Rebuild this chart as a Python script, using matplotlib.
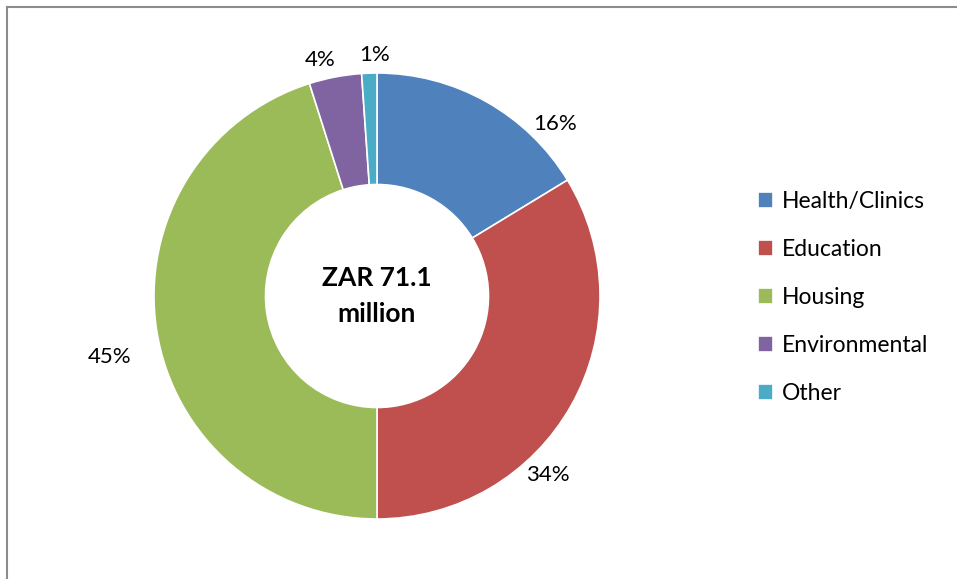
import matplotlib.pyplot as plt
import numpy as np

# Budget split (percent of ZAR 71.1 million)
categories = ["Health/Clinics", "Education", "Housing", "Environmental", "Other"]
shares = [16.3, 33.7, 45.1, 3.8, 1.1]
pct_labels = ["16%", "34%", "45%", "4%", "1%"]
colors = ["#4F81BD", "#C0504D", "#9BBB59", "#8064A2", "#4BACC6"]

# label placement: angle offset from wedge middle (deg), radius factor
label_offsets = [-16.6, -17.0, 4.0, 2.7, -1.3]
label_radius = [1.11, 1.11, 1.23, 1.09, 1.08]

plt.rcParams["font.family"] = ["Lato", "DejaVu Sans"]

fig = plt.figure(figsize=(9.57, 5.79), dpi=100)
# axes in pixel units so the donut lands where it does in the reference
ax = fig.add_axes([0, 0, 1, 1])

cx, cy, r = 377, 283, 223
wedges, _ = ax.pie(shares, colors=colors, startangle=90, counterclock=False,
                   radius=r, center=(cx, cy), frame=True,
                   wedgeprops=dict(width=r * 0.5, edgecolor="white", linewidth=1.2))
ax.set_xlim(0, 957)
ax.set_ylim(0, 579)
ax.set_aspect("equal")
ax.axis("off")

for w, lab, d, rf in zip(wedges, pct_labels, label_offsets, label_radius):
    mid = 0.5 * (w.theta1 + w.theta2) + d
    x = cx + rf * r * np.cos(np.radians(mid))
    y = cy + rf * r * np.sin(np.radians(mid))
    ax.text(x, y, lab, ha="center", va="center", fontsize=16, color="black")

ax.text(cx, cy, "ZAR 71.1\nmillion", ha="center", va="center",
        fontsize=19, fontweight="bold", linespacing=1.55)

leg = ax.legend(wedges, categories, loc="center left", bbox_to_anchor=(0.771, 0.486),
                frameon=False, fontsize=16.5, handlelength=0.65, handleheight=0.65,
                handletextpad=0.35, labelspacing=1.18)

# chart frame: only the left and top edges are visible in the crop
fig.add_artist(plt.Line2D([0.0078, 0.0078], [0, 0.988], transform=fig.transFigure,
                          color="#8c8c8c", linewidth=1.5))
fig.add_artist(plt.Line2D([0.0078, 1], [0.988, 0.988], transform=fig.transFigure,
                          color="#8c8c8c", linewidth=1.5))

fig.savefig("out.png", dpi=100)
